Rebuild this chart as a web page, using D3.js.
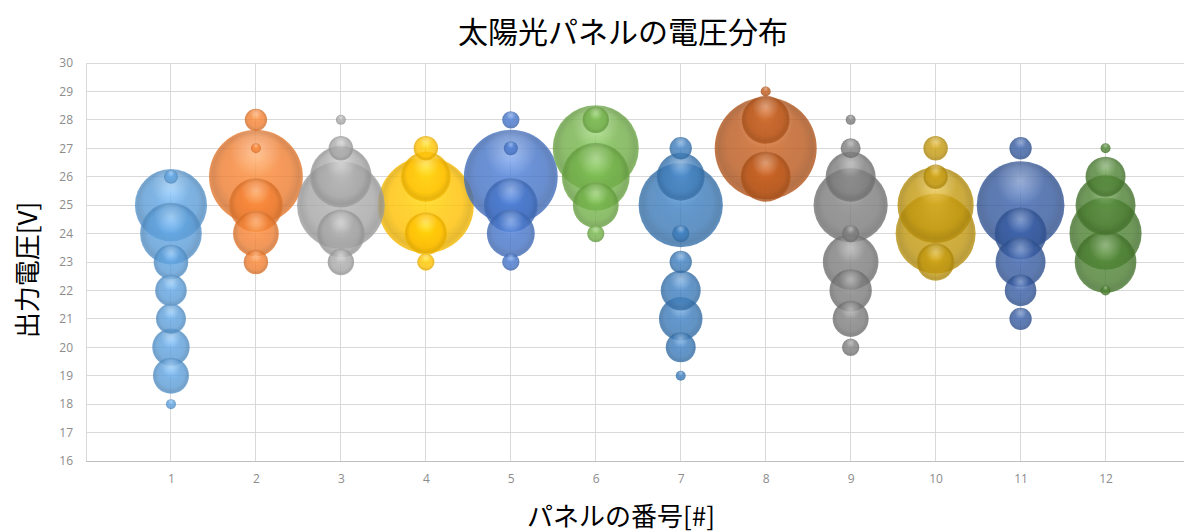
<!DOCTYPE html>
<html>
<head>
<meta charset="utf-8">
<script src="https://cdn.jsdelivr.net/npm/d3@7"></script>
<style>
  body { margin: 0; background: #fff; }
  svg { display: block; }
  .ax text { fill: #8c8c8c; font-family: "Open Sans", "Liberation Sans", sans-serif; font-size: 12px; }
  .ttl { font-family: "Noto Sans CJK JP", sans-serif; fill: #000; }
</style>
</head>
<body>
<svg id="chart" width="1184" height="532"></svg>
<script>
// voltage levels (V) that the counts below line up with
var voltLevels = [18, 19, 20, 21, 22, 23, 24, 25, 26, 27, 28, 29]

// number of readings at each voltage level, one array per panel
var panel01 = [1, 13, 14, 9, 10, 12, 38, 52, 2, 0, 0, 0]
var panel02 = [0, 0, 0, 0, 0, 6, 21, 29, 88, 1, 5, 0]
var panel03 = [0, 0, 0, 0, 0, 7, 23, 77, 38, 6, 1, 0]
var panel04 = [0, 0, 0, 0, 0, 3, 18, 92, 25, 6, 0, 0]
var panel05 = [0, 0, 0, 0, 0, 3, 23, 29, 88, 2, 3, 0]
var panel06 = [0, 0, 0, 0, 0, 0, 3, 21, 46, 74, 7, 0]
var panel07 = [0, 1, 9, 19, 16, 5, 3, 71, 23, 5, 0, 0]
var panel08 = [0, 0, 0, 0, 0, 0, 0, 0, 25, 104, 23, 1]
var panel09 = [0, 0, 3, 13, 18, 31, 3, 55, 25, 4, 1, 0]
var panel10 = [0, 0, 0, 0, 0, 14, 64, 58, 6, 6, 0, 0]
var panel11 = [0, 0, 0, 5, 10, 25, 27, 77, 0, 5, 0, 0]
var panel12 = [0, 0, 0, 0, 1, 38, 52, 36, 16, 1, 0, 0]

var panels = [panel01, panel02, panel03, panel04, panel05, panel06,
  panel07, panel08, panel09, panel10, panel11, panel12]

var xTicks = [1, 2, 3, 4, 5, 6, 7, 8, 9, 10, 11, 12]
var yTicks = [16, 17, 18, 19, 20, 21, 22, 23, 24, 25, 26, 27, 28, 29, 30]

// excel-ish series colours
var colors = ['#5b9bd5', '#ed7d31', '#a5a5a5', '#ffc000', '#4472c4', '#70ad47',
  '#3a78b5', '#b9581c', '#7a7a7a', '#bf960e', '#34589c', '#4a7d30']

var width = 1184
var height = 532

var svg = d3.select('#chart')

var x = d3.scaleLinear().domain([0, 13]).range([86, 1190.5])
var y = d3.scaleLinear().domain([16, 30]).range([461, 63])
var r = d3.scaleSqrt().domain([0, 104]).range([0, 51])

// gradients, a soft 3d look
var defs = svg.append('defs')
colors.forEach(function (c, i) {
  var base = d3.color(c)
  var g = defs.append('radialGradient')
      .attr('id', 'bub' + i)
      .attr('cx', '50%').attr('cy', '50%').attr('r', '50%')
      .attr('fx', '50%').attr('fy', '30%')
  var stops = [
    [0, base.brighter(0.45)],
    [0.45, base.brighter(0.1)],
    [0.75, base],
    [0.92, base.darker(0.35)],
    [1, base.darker(0.1)]
  ]
  stops.forEach(function (s) {
    g.append('stop').attr('offset', s[0]).attr('stop-color', s[1].formatHex())
  })
})

var hl = defs.append('radialGradient')
    .attr('id', 'hl')
    .attr('cx', '50%').attr('cy', '22%').attr('r', '28%')
hl.append('stop').attr('offset', 0).attr('stop-color', '#fff').attr('stop-opacity', 0.35)
hl.append('stop').attr('offset', 1).attr('stop-color', '#fff').attr('stop-opacity', 0)

/*
    --------------------------------------
    grid + axes
*/
var grid = svg.append('g').classed('grid', true)

grid.selectAll('.hg')
    .data(yTicks)
    .enter().append('line')
    .attr('x1', x(0)).attr('x2', width)
    .attr('y1', d => y(d)).attr('y2', d => y(d))
    .attr('stroke', d => d === 16 ? '#bfbfbf' : '#d9d9d9')
    .attr('stroke-width', 1)
    .attr('shape-rendering', 'crispEdges')

grid.selectAll('.vg')
    .data([0].concat(xTicks, [13]))
    .enter().append('line')
    .attr('x1', d => x(d)).attr('x2', d => x(d))
    .attr('y1', y(30)).attr('y2', y(16))
    .attr('stroke', '#d9d9d9')
    .attr('stroke-width', 1)
    .attr('shape-rendering', 'crispEdges')

var yAxis = d3.axisLeft(y).tickValues(yTicks).tickSize(0).tickPadding(0)
svg.append('g').classed('ax y', true)
    .attr('transform', 'translate(73,0)')
    .call(yAxis)
    .call(g => g.select('.domain').remove())

var xAxis = d3.axisBottom(x).tickValues(xTicks).tickSize(0).tickPadding(0)
svg.append('g').classed('ax x', true)
    .attr('transform', 'translate(0,474)')
    .call(xAxis)
    .call(g => g.select('.domain').remove())

/*
    --------------------------------------
    bubbles
*/
var bubbles = []
panels.forEach(function (counts, p) {
  counts.forEach(function (n, k) {
    if (n > 0) bubbles.push({panel: p + 1, volt: voltLevels[k], n: n, ci: p})
  })
})
// big ones behind, small ones in front
bubbles.sort((a, b) => b.n - a.n)

var bg = svg.append('g').classed('bubbles', true)
var b = bg.selectAll('g.b')
    .data(bubbles)
    .enter().append('g')
    .classed('b', true)
    .attr('transform', d => `translate(${x(d.panel)},${y(d.volt)})`)

b.append('circle')
    .attr('r', d => r(d.n))
    .attr('fill', d => `url(#bub${d.ci})`)
    .attr('fill-opacity', 0.8)

b.append('circle')
    .attr('r', d => r(d.n))
    .attr('fill', 'url(#hl)')

/*
    --------------------------------------
    titles
*/
svg.append('text').classed('ttl', true)
    .attr('x', 623).attr('y', 43)
    .attr('text-anchor', 'middle')
    .style('font-size', '30px')
    .text('太陽光パネルの電圧分布')

svg.append('text').classed('ttl', true)
    .attr('x', 621).attr('y', 526)
    .attr('text-anchor', 'middle')
    .style('font-size', '26px')
    .text('パネルの番号[#]')

svg.append('text').classed('ttl', true)
    .attr('transform', 'translate(37,270) rotate(-90)')
    .attr('text-anchor', 'middle')
    .style('font-size', '26px')
    .text('出力電圧[V]')
</script>
</body>
</html>
